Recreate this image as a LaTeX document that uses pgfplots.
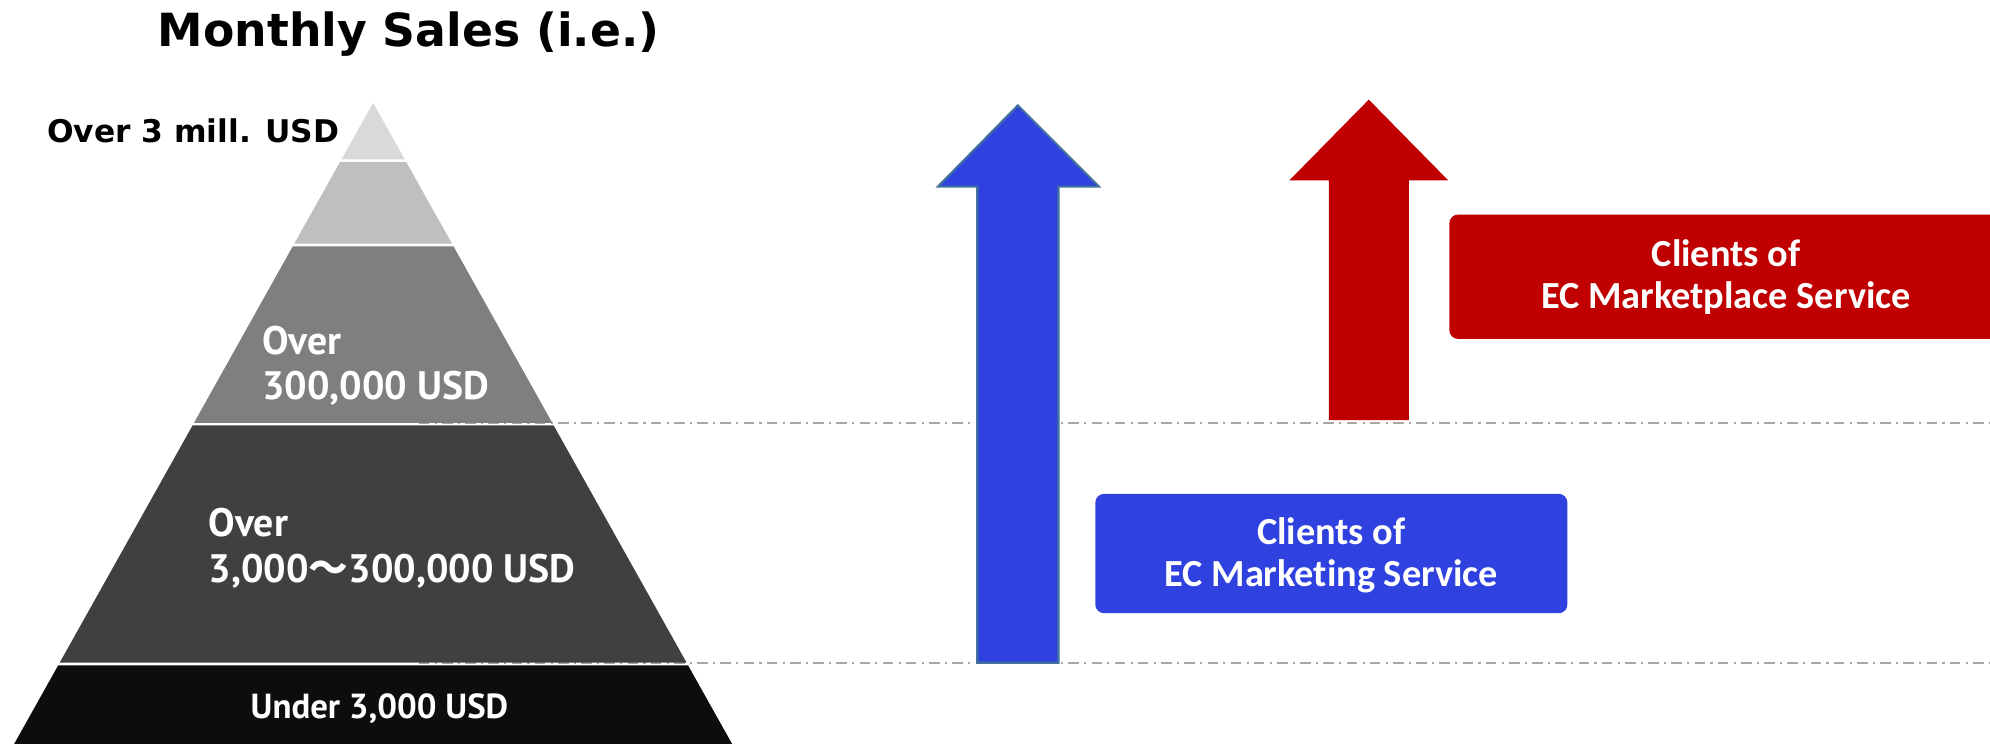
\documentclass[border=0pt]{standalone}
\usepackage{pgfplots}
\pgfplotsset{compat=1.18}
\usepackage{fontspec}
\setmainfont{DejaVu Sans}
\newfontfamily\titlefont{DejaVu Sans}
\newfontfamily\jpfont{Noto Sans CJK JP}
\newfontfamily\whitefont{PT Sans}
\newfontfamily\boxfont{Carlito}[Ligatures=CommonOff]
\definecolor{tA}{HTML}{D9D9D9}
\definecolor{tB}{HTML}{BFBFBF}
\definecolor{tC}{HTML}{7F7F7F}
\definecolor{tD}{HTML}{404040}
\definecolor{tE}{HTML}{0D0D0D}
\definecolor{myblue}{HTML}{2F42E0}
\definecolor{bluedge}{HTML}{41719C}
\definecolor{myred}{HTML}{C00000}
\definecolor{dashgray}{HTML}{A6A6A6}
\begin{document}
\begin{tikzpicture}
\begin{axis}[
  scale only axis, width=19.9cm, height=7.44cm,
  xmin=0, xmax=1568, ymin=0, ymax=586,
  hide axis, clip=true,
]
% guide lines
\addplot[dashgray, line width=0.5pt, dash pattern=on 3pt off 1.5pt on 0.6pt off 1.5pt] coordinates {(330,253) (1568,253)};
\addplot[dashgray, line width=0.5pt, dash pattern=on 3pt off 1.5pt on 0.6pt off 1.5pt] coordinates {(330,64) (1568,64)};
% pyramid tiers
\addplot[fill=tA, draw=none] coordinates {(294,505) (318.9,460.5) (269.1,460.5)} -- cycle;
\addplot[fill=tB, draw=none] coordinates {(268,458.5) (320,458.5) (356.2,394) (231.8,394)} -- cycle;
\addplot[fill=tC, draw=none] coordinates {(230.7,392) (357.3,392) (435.1,253) (152.9,253)} -- cycle;
\addplot[fill=tD, draw=none] coordinates {(151.8,251) (436.2,251) (541,64) (47,64)} -- cycle;
\addplot[fill=tE, draw=none] coordinates {(45.9,62) (542.1,62) (578,-2) (10,-2)} -- cycle;
% blue arrow
\addplot[fill=myblue, draw=bluedge, line width=0.6pt] coordinates {(770,64) (770,439) (739,439) (802,503) (866,439) (834,439) (834,64)} -- cycle;
% red arrow
\addplot[fill=myred, draw=none] coordinates {(1047,255) (1047,444) (1016,444) (1078.5,507.5) (1141,444) (1110,444) (1110,255)} -- cycle;
% boxes
\addplot[fill=myred, draw=none, rounded corners=2.5pt] coordinates {(1142,417) (1600,417) (1600,319) (1142,319)} -- cycle;
\addplot[fill=myblue, draw=none, rounded corners=2.5pt] coordinates {(863,197) (1235,197) (1235,103) (863,103)} -- cycle;
% texts
\node[font=\titlefont\bfseries\fontsize{13}{15}\selectfont, anchor=center] at (axis cs:322,559) {Monthly Sales (i.e.)};
\node[font=\titlefont\bfseries\fontsize{8.9}{11}\selectfont, anchor=east, inner sep=0pt] at (axis cs:268,483) {Over 3 mill. USD};
\node[font=\whitefont\bfseries\fontsize{11.3}{13}\selectfont, text=white, anchor=west, inner sep=0pt, align=left] at (axis cs:206,298) {Over\\300,000 USD};
\node[font=\whitefont\bfseries\fontsize{11.3}{13}\selectfont, text=white, anchor=west, inner sep=0pt, align=left] at (axis cs:164,154) {Over\\3,000{\jpfont\bfseries ～}300,000 USD};
\node[font=\whitefont\bfseries\fontsize{9.9}{12}\selectfont, text=white, anchor=center, inner sep=0pt] at (axis cs:299,28) {Under 3,000 USD};
\node[font=\boxfont\bfseries\fontsize{10.9}{12}\selectfont, text=white, anchor=center, inner sep=0pt, align=center] at (axis cs:1360,367.5) {Clients of\\EC Marketplace Service};
\node[font=\boxfont\bfseries\fontsize{10.9}{12}\selectfont, text=white, anchor=center, inner sep=0pt, align=center] at (axis cs:1049,148.5) {Clients of\\EC Marketing Service};
\end{axis}
\pgfresetboundingbox
\useasboundingbox (current axis.south west) rectangle (current axis.north east);
\end{tikzpicture}
\end{document}
